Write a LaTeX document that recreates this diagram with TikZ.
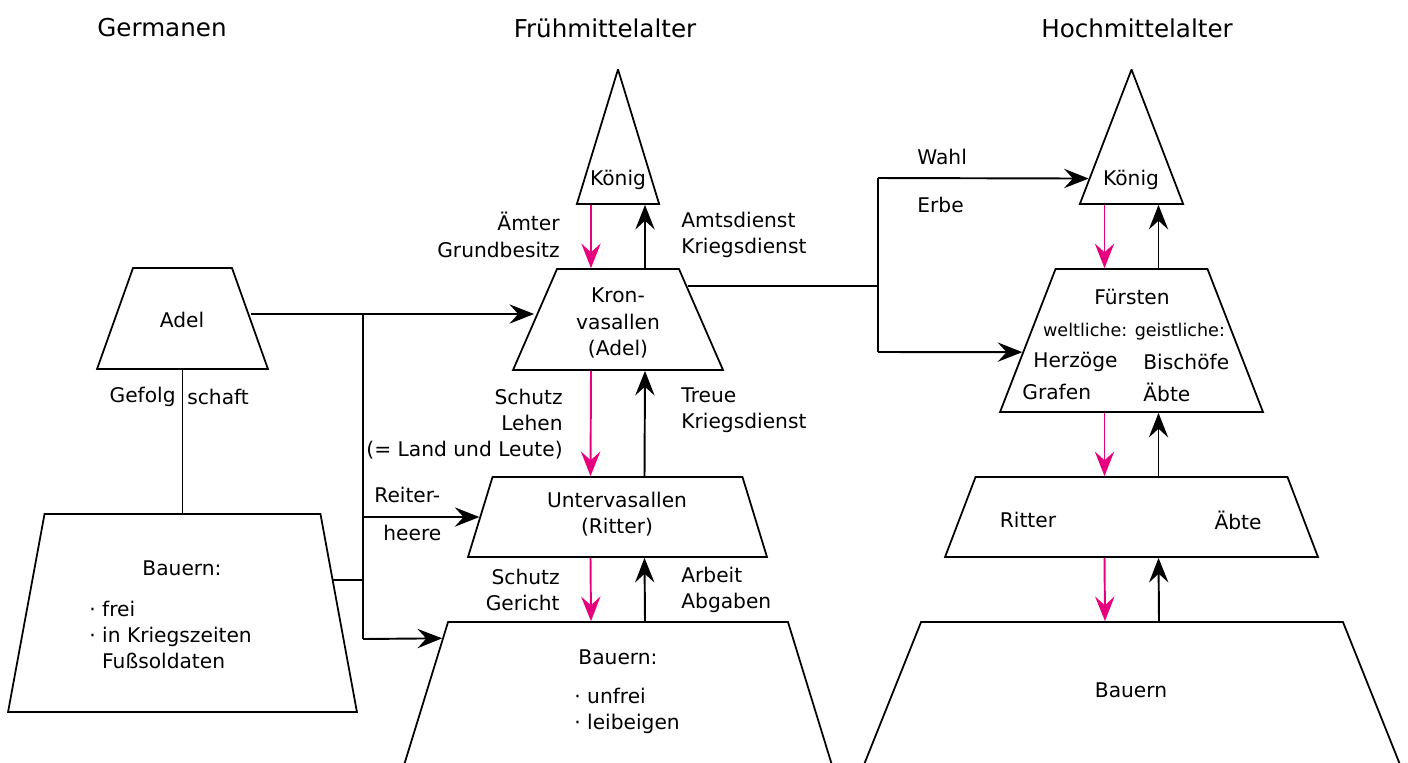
\documentclass[tikz,border=0pt]{standalone}
\usepackage{fontspec}
\setmainfont{DejaVu Sans}
\usetikzlibrary{shapes.geometric,arrows.meta,calc}

\definecolor{lehnpink}{RGB}{230,0,126}

\tikzset{
  trapbox/.style n args={3}{trapezium, draw, line width=1pt,
    inner xsep=#1, inner ysep=#2, trapezium angle=#3},
  lbl/.style={font=\fontsize{11.5}{15}\selectfont, inner sep=0pt},
  small/.style={font=\fontsize{10}{12}\selectfont, inner sep=0pt},
  epoch/.style={font=\fontsize{14}{17}\selectfont, inner sep=0pt},
  conn/.style={line width=1.1pt},
  arr/.style={line width=1.1pt, -{Stealth[length=14pt,width=11pt,inset=5pt]}},
  pinkarr/.style={arr, lehnpink},
}

\begin{document}
\begin{tikzpicture}[x=0.02cm, y=-0.02cm]
\useasboundingbox (0,0) rectangle (1408,762);
\clip (0,0) rectangle (1408,762);

% Ueberschriften
\node[epoch] (tGerm) at (162,28) {Germanen};
\node[epoch] (tFrueh) at (605,28) {Frühmittelalter};
\node[epoch] (tHoch) at (1137,28) {Hochmittelalter};

% Germanen
\node[trapbox={0.99cm}{1.01cm}{70.4}] (adel) at (182.5,318.5) {};
\node[lbl] (tAdel) at (182,320) {Adel};
\node[trapbox={2.76cm}{1.98cm}{79.56}] (bauernG) at (182.5,613) {};
\node[lbl] (tBauernG) at (182,568) {Bauern:};
\node[lbl, align=left, anchor=west] (tFrei) at (89,635)
  {· frei\\· in Kriegszeiten\\\hphantom{·\ }Fußsoldaten};
\draw[conn] (adel.south) -- (bauernG.north);
\node[lbl, anchor=east] (tGefolg) at (176,397) {Gefolg};
\node[lbl, anchor=west] (tSchaft) at (187,397) {schaft};

% Fruehmittelalter
\node[trapbox={0.1pt}{1.34cm}{73.0}] (koenigF) at (618,137) {};
\node[lbl] (tKoenigF) at (618,180) {König};
\node[trapbox={1.22cm}{1.01cm}{66.46}] (kronF) at (618,319.5) {};
\node[lbl, align=center] (tKronF) at (618,323) {Kron-\\vasallen\\(Adel)};
\node[trapbox={2.5cm}{0.8cm}{72.97}] (unterF) at (617.5,517) {};
\node[lbl, align=center] (tUnterF) at (617,514) {Untervasallen\\(Ritter)};
\node[trapbox={3.4cm}{2cm}{72.9}] (bauernF) at (618,722) {};
\node[lbl] (tBauernF) at (618,657) {Bauern:};
\node[lbl, align=left, anchor=west] (tUnfrei) at (574,711) {· unfrei\\· leibeigen};

\draw[pinkarr] ($(koenigF.south)+(-27,0)$) -- ($(kronF.north)+(-27,0)$);
\draw[arr] ($(kronF.north)+(27,0)$) -- ($(koenigF.south)+(27,0)$);
\draw[pinkarr] ($(kronF.south)+(-27,0)$) -- ($(unterF.north)+(-27,0)$);
\draw[arr] ($(unterF.north)+(27,0)$) -- ($(kronF.south)+(27,0)$);
\draw[pinkarr] ($(unterF.south)+(-27,0)$) -- ($(bauernF.north)+(-27,0)$);
\draw[arr] ($(bauernF.north)+(27,0)$) -- ($(unterF.south)+(27,0)$);

\node[lbl, align=right, anchor=east] (tAemter) at (560,235) {Ämter\\Grundbesitz};
\node[lbl, align=left, anchor=west] (tAmts) at (681,235) {Amtsdienst\\Kriegsdienst};
\node[lbl, align=right, anchor=east] (tLehen) at (563,424) {Schutz\\Lehen\\(= Land und Leute)};
\node[lbl, align=left, anchor=west] (tTreue) at (681,410) {Treue\\Kriegsdienst};
\node[lbl, align=right, anchor=east] (tGericht) at (560,590) {Schutz\\Gericht};
\node[lbl, align=left, anchor=west] (tArbeit) at (681,590) {Arbeit\\Abgaben};

% Verbindungen Germanen -> Fruehmittelalter
\coordinate (jAdel) at (363,314);
\coordinate (jReiter) at (363,517);
\coordinate (jBauern) at (363,639);
\coordinate (bgRand) at ($(bauernG.top right corner)!66/198!(bauernG.bottom right corner)$);
\coordinate (bfRand) at ($(bauernF.top left corner)!17/200!(bauernF.bottom left corner)$);
\draw[conn] (adel.east |- jAdel) -- (jAdel) -- (jBauern);
\draw[conn] (bgRand) -- (bgRand -| jAdel);
\draw[arr] (jAdel) -- (kronF.west |- jAdel);
\draw[arr] (jReiter) -- (unterF.west |- jReiter);
\draw[arr] (jBauern) -- (bfRand);
\node[lbl, anchor=west] (tReiter) at (374,495) {Reiter-};
\node[lbl, anchor=west] (tHeere) at (383,533) {heere};

% Hochmittelalter
\node[trapbox={0.1pt}{1.34cm}{68.98}] (koenigH) at (1131.5,137) {};
\node[lbl] (tKoenigH) at (1131,180) {König};
\node[trapbox={1.52cm}{1.43cm}{68.79}] (fuerstH) at (1131.5,340.5) {};
\node[lbl] (tFuerstH) at (1132,297) {Fürsten};
\node[small] (tWeltl) at (1134,332) {weltliche: geistliche:};
\node[lbl, anchor=west] (tHerz) at (1033,362) {Herzöge};
\node[lbl, anchor=west] (tBisch) at (1143,362) {Bischöfe};
\node[lbl, anchor=west] (tGraf) at (1022,392) {Grafen};
\node[lbl, anchor=west] (tAebteF) at (1143,392) {Äbte};
\node[trapbox={3.12cm}{0.8cm}{69.13}] (ritterH) at (1131.5,517) {};
\node[lbl] (tRitterH) at (1028,520) {Ritter};
\node[lbl] (tAebteR) at (1238,520) {Äbte};
\node[trapbox={4.22cm}{2cm}{68.2}] (bauernH) at (1132,722) {};
\node[lbl] (tBauernH) at (1131,690) {Bauern};

\draw[pinkarr] ($(koenigH.south)+(-27,0)$) -- ($(fuerstH.north)+(-27,0)$);
\draw[arr] ($(fuerstH.north)+(27,0)$) -- ($(koenigH.south)+(27,0)$);
\draw[pinkarr] ($(fuerstH.south)+(-27,0)$) -- ($(ritterH.north)+(-27,0)$);
\draw[arr] ($(ritterH.north)+(27,0)$) -- ($(fuerstH.south)+(27,0)$);
\draw[pinkarr] ($(ritterH.south)+(-27,0)$) -- ($(bauernH.north)+(-27,0)$);
\draw[arr] ($(bauernH.north)+(27,0)$) -- ($(ritterH.south)+(27,0)$);

% Verbindungen Fruehmittelalter -> Hochmittelalter
\coordinate (jWahl) at (878,178);
\coordinate (jKron) at (878,287);
\coordinate (jErbe) at (878,352);
\coordinate (kfRand) at ($(kronF.top right corner)!18/101!(kronF.bottom right corner)$);
\coordinate (khRand) at ($(koenigH.top left corner)!108/134!(koenigH.bottom left corner)$);
\coordinate (fhRand) at ($(fuerstH.top left corner)!83/143!(fuerstH.bottom left corner)$);
\draw[conn] (kfRand) -- (kfRand -| jKron);
\draw[conn] (jWahl) -- (jErbe);
\draw[arr] (jWahl) -- (khRand);
\draw[arr] (jErbe) -- (fhRand);
\node[lbl, anchor=west] (tWahl) at (917,157) {Wahl};
\node[lbl, anchor=west] (tErbe) at (917,205) {Erbe};
\end{tikzpicture}
\end{document}
